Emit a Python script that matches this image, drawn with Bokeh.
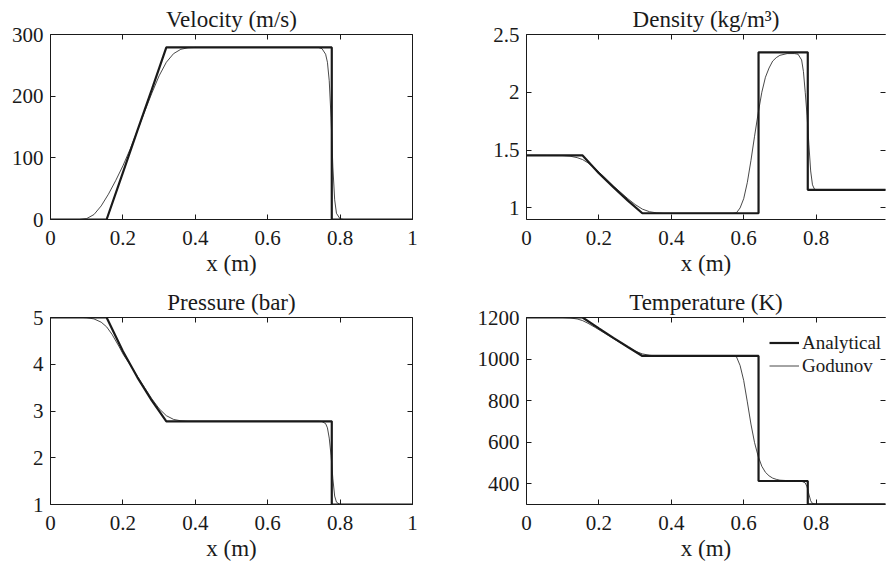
from bokeh.plotting import figure
from bokeh.models import Range1d, LinearAxis, FixedTicker, NumeralTickFormatter, CustomJSTickFormatter
from bokeh.layouts import column, row
from bokeh.embed import file_html
from bokeh.resources import INLINE

# ---------------- data ----------------
x_ticks = [0, 0.2, 0.4, 0.6, 0.8, 1]

# analytical (exact Riemann) solution
x_exact = [0, 0.155, 0.20, 0.24, 0.28, 0.32, 0.641, 0.641, 0.777, 0.777, 1.0]
u_exact = [0, 0, 76, 144, 211, 279, 279, 279, 279, 0, 0]
rho_exact = [1.454, 1.454, 1.30, 1.18, 1.063, 0.954, 0.954, 2.346, 2.346, 1.157, 1.157]
p_exact = [5, 5, 4.28, 3.72, 3.22, 2.78, 2.78, 2.78, 2.78, 1, 1]
T_exact = [1200, 1200, 1148, 1102, 1058, 1015, 1015, 413, 413, 301, 301]

# Godunov numerical solution
x_god_u = [0, 0.08, 0.10, 0.12, 0.14, 0.16, 0.18, 0.20, 0.22, 0.24, 0.26, 0.28, 0.30, 0.32,
           0.34, 0.36, 0.38, 0.40, 0.74, 0.75, 0.76, 0.765, 0.77, 0.775, 0.78, 0.785, 0.79,
           0.80, 0.81, 1.0]
u_god = [0, 0, 1.5, 8, 22, 41, 63, 87, 114, 144, 175, 205, 233, 255, 269, 276, 278.5, 279,
         279, 277, 268, 255, 225, 165, 85, 32, 10, 1, 0, 0]

x_god_rho = [0, 0.10, 0.12, 0.14, 0.155, 0.17, 0.19, 0.214, 0.24, 0.26, 0.28, 0.30, 0.32,
             0.34, 0.36, 0.38, 0.57, 0.58, 0.59, 0.60, 0.61, 0.62, 0.63, 0.64, 0.65, 0.66,
             0.67, 0.68, 0.69, 0.70, 0.72, 0.74, 0.75, 0.76, 0.765, 0.77, 0.775, 0.78,
             0.785, 0.79, 0.795, 0.80, 0.82, 1.0]
rho_god = [1.454, 1.453, 1.448, 1.435, 1.418, 1.39, 1.34, 1.27, 1.19, 1.135, 1.08, 1.03,
           0.99, 0.967, 0.957, 0.954, 0.954, 0.958, 1.00, 1.08, 1.22, 1.41, 1.62, 1.82,
           2.00, 2.13, 2.21, 2.27, 2.30, 2.32, 2.335, 2.335, 2.33, 2.28, 2.18, 2.0, 1.8,
           1.55, 1.32, 1.2, 1.165, 1.157, 1.157, 1.157]

x_god_p = [0, 0.09, 0.10, 0.12, 0.14, 0.155, 0.17, 0.19, 0.2025, 0.22, 0.24, 0.26, 0.28,
           0.30, 0.32, 0.34, 0.36, 0.38, 0.74, 0.75, 0.76, 0.765, 0.77, 0.775, 0.78, 0.785,
           0.79, 0.80, 0.81, 1.0]
p_god = [5, 5, 4.995, 4.97, 4.90, 4.80, 4.64, 4.37, 4.19, 3.99, 3.74, 3.50, 3.26, 3.05,
         2.90, 2.82, 2.79, 2.78, 2.78, 2.775, 2.73, 2.64, 2.42, 2.05, 1.55, 1.18, 1.05,
         1.0, 1.0, 1.0]

x_god_T = [0, 0.10, 0.12, 0.14, 0.155, 0.17, 0.19, 0.22, 0.25, 0.28, 0.30, 0.32, 0.34,
           0.36, 0.38, 0.57, 0.58, 0.59, 0.60, 0.61, 0.62, 0.63, 0.64, 0.65, 0.66, 0.67,
           0.68, 0.69, 0.70, 0.72, 0.74, 0.76, 0.77, 0.775, 0.78, 0.785, 0.79, 0.80, 0.82, 1.0]
T_god = [1200, 1200, 1198, 1193, 1185, 1172, 1152, 1120, 1088, 1057, 1038, 1025, 1018,
         1015, 1015, 1015, 1011, 969, 897, 794, 687, 598, 532, 484, 455, 438, 427, 421,
         417, 415, 414, 412, 404, 385, 350, 318, 305, 301, 301, 301]

titles = ["Velocity (m/s)", "Density (kg/m\u00b3)", "Pressure (bar)", "Temperature (K)"]
x_label = "x (m)"
legend_labels = ["Analytical", "Godunov"]
u_ticks = [0, 100, 200, 300]
rho_ticks = [1, 1.5, 2, 2.5]
p_ticks = [1, 2, 3, 4, 5]
T_ticks = [400, 600, 800, 1000, 1200]

# ---------------- styling ----------------
FONT = "Liberation Serif"
INK = "#1a1a1a"
BLANK = CustomJSTickFormatter(code="return ''")


def style_axis(ax, ticks, show_labels, line=True):
    ax.ticker = FixedTicker(ticks=ticks)
    ax.major_tick_in = 5
    ax.major_tick_out = 0
    ax.minor_tick_line_color = None
    ax.major_tick_line_color = INK
    ax.axis_line_color = INK if line else None
    ax.major_label_text_font = FONT
    ax.major_label_text_color = INK
    if show_labels:
        ax.formatter = NumeralTickFormatter(format="0.[0]")
        ax.major_label_text_font_size = "21px"
    else:
        ax.formatter = BLANK
        ax.major_label_standoff = 0


def make_fig(title, y_range, y_ticks, col, rw):
    left = col == 0
    w = 443
    h = 285 if rw == 0 else 284
    mbl = 50 if left else 83
    mbr = 31 if left else 1
    mbt = 34 if rw == 0 else 32
    mbb = 66 if rw == 0 else 65
    frame_w = w - mbl - mbr
    xend = frame_w / 362.0
    p = figure(width=w, height=h, x_range=Range1d(0, xend), y_range=Range1d(*y_range),
               output_backend="svg", toolbar_location=None,
               min_border_left=mbl, min_border_right=mbr,
               min_border_top=mbt, min_border_bottom=mbb)
    p.outline_line_color = None
    p.grid.visible = False
    p.background_fill_color = "white"
    p.border_fill_color = "white"

    p.title.text = title
    p.title.text_font = FONT
    p.title.text_font_size = "23px"
    p.title.text_font_style = "normal"
    p.title.text_color = INK
    p.title.align = "center"
    p.title.standoff = 5

    xa = p.xaxis[0]
    style_axis(xa, x_ticks, True)
    xa.major_label_standoff = 11
    xa.axis_label = x_label
    xa.axis_label_text_font = FONT
    xa.axis_label_text_font_size = "23px"
    xa.axis_label_text_font_style = "normal"
    xa.axis_label_text_color = INK
    xa.axis_label_standoff = 3

    ya = p.yaxis[0]
    style_axis(ya, y_ticks, True)
    ya.major_label_standoff = 7

    top = LinearAxis()
    style_axis(top, x_ticks, False)
    p.add_layout(top, "above")
    rt = LinearAxis()
    style_axis(rt, y_ticks, False, line=left)
    p.add_layout(rt, "right")
    return p


p_u = make_fig(titles[0], (0, 300), u_ticks, 0, 0)
p_r = make_fig(titles[1], (0.9, 2.5), rho_ticks, 1, 0)
p_p = make_fig(titles[2], (1, 5), p_ticks, 0, 1)
p_T = make_fig(titles[3], (300, 1200), T_ticks, 1, 1)

for fig, xg, yg, ye in [(p_u, x_god_u, u_god, u_exact),
                        (p_r, x_god_rho, rho_god, rho_exact),
                        (p_p, x_god_p, p_god, p_exact)]:
    fig.line(x_exact, ye, line_color=INK, line_width=2.2)
    fig.line(xg, yg, line_color=INK, line_width=0.8)

p_T.line(x_exact, T_exact, line_color=INK, line_width=2.2, legend_label=legend_labels[0])
p_T.line(x_god_T, T_god, line_color=INK, line_width=0.8, legend_label=legend_labels[1])

lg = p_T.legend[0]
lg.location = (243, 127)
lg.border_line_color = None
lg.background_fill_alpha = 0
lg.label_text_font = FONT
lg.label_text_font_size = "19px"
lg.label_text_color = INK
lg.glyph_width = 30
lg.glyph_height = 23
lg.label_height = 23
lg.spacing = 0
lg.padding = 0
lg.margin = 0
lg.label_standoff = 3

layout = column(row(p_u, p_r), row(p_p, p_T))

open("out.html", "w").write(file_html(layout, INLINE))
